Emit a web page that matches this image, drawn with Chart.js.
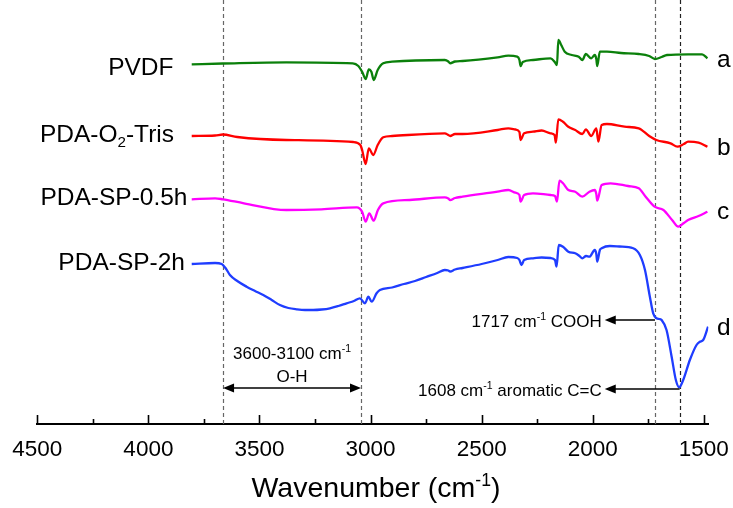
<!DOCTYPE html>
<html><head><meta charset="utf-8">
<script src="https://cdn.jsdelivr.net/npm/chart.js@4.4.0/dist/chart.umd.min.js"></script>
<style>html,body{margin:0;padding:0;background:#fff}#wrap{width:733px;height:508px}</style>
</head><body><div id="wrap"><canvas id="c" width="733" height="508"></canvas></div>
<script>
const FONT = '"Liberation Sans", Arial, Helvetica, sans-serif';

// ---- data (wavenumber in cm-1, offset signal in arbitrary units) ----
const pvdfWavenumber = [3805,3665,3380,3080,3055,3038,3022,3008,2996,2986,2968,2943,2903,2666,2650,2642,2620,2586,2428,2380,2340,2330,2325,2315,2269,2190,2171,2161,2155,2142,2126,2095,2063,2047,2031,2007,1991,1984,1980,1968,1936,1873,1793,1746,1720,1690,1666,1571,1508,1484];
const pvdfSignal = [359.7,360.5,361.7,360.7,358,352.3,345,354.7,352,344,354,360.7,362.3,364,362.5,360.7,362.5,363,366.7,368.3,367.3,364,358,362,364,365.7,362,359,384,379,372.3,369,367.3,364,370,365.7,369,365,358,372.3,372.3,371,370,368,365,367,369,369.7,369.7,365.7];

const trisWavenumber = [3805,3700,3665,3600,3379,3078,3046,3038,3022,3008,2988,2968,2943,2903,2666,2650,2642,2620,2586,2428,2380,2348,2330,2325,2309,2269,2230,2190,2172,2166,2155,2134,2110,2079,2047,2031,2007,1984,1975,1960,1936,1857,1793,1746,1714,1650,1619,1590,1571,1524,1484];
const trisSignal = [288,288.5,289.5,287,284,282,279,274,260,275.7,269,279,286.7,288,290.7,289,288,290,290,294,295.7,294.5,292,284,290.7,292.3,293.5,290.7,289,281.3,304.7,302.3,297.3,294,290,294.7,288,295.7,282.3,299,300,297.3,295.7,288,284,280.7,277.3,280,282.3,281.3,277.3];

const sp05Wavenumber = [3805,3700,3665,3570,3379,3221,3062,3038,3022,3006,2986,2967,2943,2824,2666,2650,2642,2620,2586,2428,2380,2348,2330,2325,2309,2269,2190,2170,2161,2150,2134,2110,2079,2047,2015,1991,1984,1980,1960,1920,1841,1793,1762,1722,1682,1643,1615,1590,1571,1524,1484];
const sp05Signal = [224.7,225.7,224.7,220.7,214,214.7,216.7,212.3,202.3,210.7,203.3,214,220.7,224,226.7,225.5,224,226,227.3,232.3,234,231.3,229,222.3,229,230.7,229,228,222.3,243.3,240.7,234,232.3,227.3,232.3,234,230,223.3,239,240.7,238,235.7,227.3,217.3,214,204,197.3,201,204,208,212.3];

const sp2Wavenumber = [3805,3700,3670,3650,3633,3600,3558,3520,3483,3445,3408,3370,3333,3295,3258,3220,3183,3145,3108,3075,3048,3025,3010,2995,2973,2958,2903,2850,2800,2750,2700,2666,2650,2642,2620,2586,2500,2428,2380,2340,2330,2321,2309,2269,2230,2190,2170,2163,2153,2134,2110,2079,2060,2047,2030,2015,1991,1984,1980,1968,1960,1923,1880,1818,1788,1765,1743,1728,1713,1700,1690,1668,1645,1626,1611,1593,1563,1533,1518,1503,1481];
const sp2Signal = [160,161,160,155,149,143,137.3,133,129,124,119,116,114.7,114,114,114.5,115.7,118,120.7,123,125.7,120.7,127.3,122.3,130.7,134,136.5,140,143,147,151,154,153.5,152.5,154.5,156,160,164,167,166,164,159,164,165.7,166.5,166,164,157.3,179,177.3,172.3,170.7,168,165.7,168,167.3,174,170,162.3,174,175.7,178,177.5,175.7,169,154,127.3,110.7,105.7,105,104,94,67.3,44,36.7,44,64,79,82.3,84,97.3];

const seriesNames = ['PVDF', 'PDA-O2-Tris', 'PDA-SP-0.5h', 'PDA-SP-2h'];
const seriesLetters = ['a', 'b', 'c', 'd'];
const seriesColors = ['#0b800b', '#ff0000', '#ff00ff', '#1f3dff'];

const xTickValues = [4500,4250,4000,3750,3500,3250,3000,2750,2500,2250,2000,1750,1500];
const xMajorStep = 500;
const markerWavenumbers = [3664, 3043, 1720, 1609];
const markerColors = ['#666', '#666', '#666', '#222'];

// annotation arrows (wavenumber range, level in signal units)
const ohArrow = {from: 3664, to: 3043, level: 36};
const coohArrow = {from: 1720, to: 1946, level: 104};
const ccArrow = {from: 1609, to: 1946, level: 35};

function pairs(xs, ys) { return xs.map((x, i) => ({x: x, y: ys[i]})); }

function drawRich(ctx, segs, x, y, align, size) {
  const small = size * 0.62;
  const widths = segs.map(s => { ctx.font = ((s.sup || s.sub) ? small : size) + 'px ' + FONT; return ctx.measureText(s.t).width; });
  const total = widths.reduce((a, b) => a + b, 0);
  let cx = align === 'center' ? x - total / 2 : align === 'right' ? x - total : x;
  ctx.textAlign = 'left';
  ctx.textBaseline = 'alphabetic';
  ctx.fillStyle = '#000';
  segs.forEach((s, i) => {
    ctx.font = ((s.sup || s.sub) ? small : size) + 'px ' + FONT;
    const dy = s.sup ? -size * 0.4 : s.sub ? size * 0.22 : 0;
    ctx.fillText(s.t, cx, y + dy);
    cx += widths[i];
  });
}

function arrowHead(ctx, x, y, dir) {
  ctx.beginPath();
  ctx.moveTo(x, y);
  ctx.lineTo(x - dir * 11, y - 4.5);
  ctx.lineTo(x - dir * 11, y + 4.5);
  ctx.closePath();
  ctx.fill();
}

const decor = {
  id: 'decor',
  beforeDatasetsDraw(chart) {
    const ctx = chart.ctx, xs = chart.scales.x, a = chart.chartArea;
    ctx.save();
    ctx.lineWidth = 1.2;
    ctx.setLineDash([4, 3]);
    markerWavenumbers.forEach((w, i) => {
      const px = Math.round(xs.getPixelForValue(w)) + 0.5;
      ctx.strokeStyle = markerColors[i];
      ctx.beginPath(); ctx.moveTo(px, a.top); ctx.lineTo(px, a.bottom); ctx.stroke();
    });
    ctx.restore();
  },
  afterDatasetsDraw(chart) {
    const ctx = chart.ctx, xs = chart.scales.x, ys = chart.scales.y, a = chart.chartArea;
    ctx.save();
    // inward ticks
    ctx.strokeStyle = '#000'; ctx.lineWidth = 1.6;
    xs.ticks.forEach(t => {
      const px = Math.round(xs.getPixelForValue(t.value)) + 0.5;
      const len = t.value % xMajorStep === 0 ? 9 : 5;
      ctx.beginPath(); ctx.moveTo(px, a.bottom); ctx.lineTo(px, a.bottom - len); ctx.stroke();
    });
    // arrows
    ctx.fillStyle = '#000'; ctx.strokeStyle = '#000'; ctx.lineWidth = 1.3;
    const oy = ys.getPixelForValue(ohArrow.level);
    const ox1 = xs.getPixelForValue(ohArrow.from), ox2 = xs.getPixelForValue(ohArrow.to);
    ctx.beginPath(); ctx.moveTo(ox1 + 4, oy); ctx.lineTo(ox2 - 4, oy); ctx.stroke();
    arrowHead(ctx, ox1, oy, -1); arrowHead(ctx, ox2, oy, 1);
    [coohArrow, ccArrow].forEach(ar => {
      const y = ys.getPixelForValue(ar.level);
      const x1 = xs.getPixelForValue(ar.from), x2 = xs.getPixelForValue(ar.to);
      ctx.beginPath(); ctx.moveTo(x1, y); ctx.lineTo(x2 + 4, y); ctx.stroke();
      arrowHead(ctx, x2, y, -1);
    });
    // annotation texts
    const midOH = (ox1 + ox2) / 2;
    drawRich(ctx, [{t: '3600-3100 cm'}, {t: '-1', sup: true}], midOH, 359, 'center', 17);
    drawRich(ctx, [{t: 'O-H'}], midOH, 382, 'center', 17);
    const cx1 = xs.getPixelForValue(coohArrow.to) - 3;
    drawRich(ctx, [{t: '1717 cm'}, {t: '-1', sup: true}, {t: ' COOH'}], cx1, ys.getPixelForValue(coohArrow.level) + 6.5, 'right', 17);
    drawRich(ctx, [{t: '1608 cm'}, {t: '-1', sup: true}, {t: ' aromatic C=C'}], cx1, ys.getPixelForValue(ccArrow.level) + 6.5, 'right', 17);
    // series names
    drawRich(ctx, [{t: 'PVDF'}], 173.5, 75, 'right', 24.5);
    drawRich(ctx, [{t: 'PDA-O'}, {t: '2', sub: true}, {t: '-Tris'}], 174, 141.5, 'right', 24.5);
    drawRich(ctx, [{t: 'PDA-SP-0.5h'}], 187.5, 205, 'right', 24.5);
    drawRich(ctx, [{t: 'PDA-SP-2h'}], 185, 270, 'right', 24.5);
    // letters
    const letterBase = [67, 155, 219, 335];
    seriesLetters.forEach((l, i) => drawRich(ctx, [{t: l}], 717, letterBase[i], 'left', 24.5));
    // axis title
    drawRich(ctx, [{t: 'Wavenumber (cm'}, {t: '-1', sup: true}, {t: ')'}], 376, 497, 'center', 28.5);
    ctx.restore();
  }
};

new Chart(document.getElementById('c'), {
  type: 'line',
  data: {
    datasets: [
      {label: seriesNames[0], data: pairs(pvdfWavenumber, pvdfSignal), borderColor: seriesColors[0]},
      {label: seriesNames[1], data: pairs(trisWavenumber, trisSignal), borderColor: seriesColors[1]},
      {label: seriesNames[2], data: pairs(sp05Wavenumber, sp05Signal), borderColor: seriesColors[2]},
      {label: seriesNames[3], data: pairs(sp2Wavenumber, sp2Signal), borderColor: seriesColors[3]}
    ].map(d => Object.assign(d, {borderWidth: 2.3, pointRadius: 0, fill: false, cubicInterpolationMode: 'monotone'}))
  },
  options: {
    responsive: false,
    animation: false,
    devicePixelRatio: 1,
    layout: {padding: {left: 37.3, right: 24.7, top: 0, bottom: 0}},
    plugins: {legend: {display: false}, tooltip: {enabled: false}},
    scales: {
      x: {
        type: 'linear', reverse: true, min: 1480, max: 4500,
        afterBuildTicks: s => { s.ticks = xTickValues.map(v => ({value: v})); },
        afterFit: s => { s.height = 84; s.paddingLeft = 0; s.paddingRight = 0; },
        ticks: {
          callback: v => (v % xMajorStep === 0 ? String(v) : ''),
          font: {family: FONT, size: 22.5}, color: '#000', padding: 12,
          maxRotation: 0, autoSkip: false
        },
        grid: {display: false, drawTicks: false},
        border: {display: true, color: '#000', width: 2}
      },
      y: {display: false, min: 0, max: 424}
    }
  },
  plugins: [decor]
});
</script>
</body></html>
